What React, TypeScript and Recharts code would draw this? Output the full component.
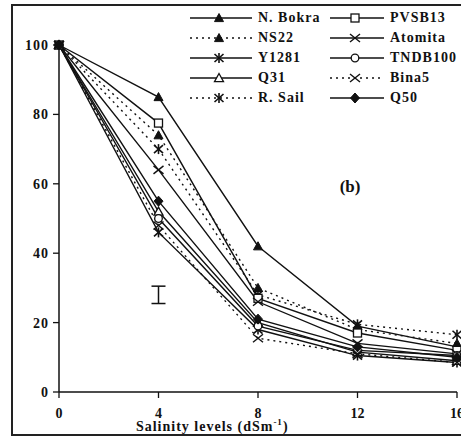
import React from 'react';
import {
  ComposedChart, Line, XAxis, YAxis, Scatter, ErrorBar, ReferenceDot, Label,
} from 'recharts';

const salinityLevels = [0, 4, 8, 12, 16];
const nBokra = [100, 85, 42, 19, 13];
const pvsb13 = [100, 77.5, 27, 17, 12];
const ns22 = [100, 74, 30, 18, 14];
const atomita = [100, 64, 26, 14, 11];
const y1281 = [100, 46, 18, 10.5, 8.5];
const tndb100 = [100, 50, 19, 12, 10.5];
const q31 = [100, 52, 20, 11.5, 9];
const bina5 = [100, 48, 15.5, 11, 8.5];
const rSail = [100, 70, 28, 19.5, 16.5];
const q50 = [100, 55, 21, 13, 10];
const yTicks = [0, 20, 40, 60, 80, 100];
const lsdBar = [{ x: 4, y: 28, err: 2.5 }];

type Mk = 'triF' | 'triO' | 'square' | 'circle' | 'diamond' | 'x' | 'ast';
interface S { key: string; name: string; values: number[]; dashed: boolean; marker: Mk }

// legend order: left column then right column
const series: S[] = [
  { key: 'nb', name: 'N. Bokra', values: nBokra, dashed: false, marker: 'triF' },
  { key: 'ns', name: 'NS22', values: ns22, dashed: true, marker: 'triF' },
  { key: 'y1', name: 'Y1281', values: y1281, dashed: false, marker: 'ast' },
  { key: 'q31', name: 'Q31', values: q31, dashed: false, marker: 'triO' },
  { key: 'rs', name: 'R. Sail', values: rSail, dashed: true, marker: 'ast' },
  { key: 'pv', name: 'PVSB13', values: pvsb13, dashed: false, marker: 'square' },
  { key: 'at', name: 'Atomita', values: atomita, dashed: false, marker: 'x' },
  { key: 'tn', name: 'TNDB100', values: tndb100, dashed: false, marker: 'circle' },
  { key: 'b5', name: 'Bina5', values: bina5, dashed: true, marker: 'x' },
  { key: 'q50', name: 'Q50', values: q50, dashed: false, marker: 'diamond' },
];

const data = salinityLevels.map((x, i) => {
  const row: Record<string, number> = { x };
  series.forEach((s) => { row[s.key] = s.values[i]; });
  return row;
});

const INK = '#111';
const FONT = '"Liberation Serif", "Times New Roman", serif';

function Marker({ type, cx, cy }: { type: Mk; cx: number; cy: number }) {
  const s = 4.5;
  switch (type) {
    case 'triF':
      return <polygon points={`${cx},${cy - s} ${cx - s},${cy + s * 0.8} ${cx + s},${cy + s * 0.8}`} fill={INK} stroke={INK} />;
    case 'triO':
      return <polygon points={`${cx},${cy - s} ${cx - s},${cy + s * 0.8} ${cx + s},${cy + s * 0.8}`} fill="#fff" stroke={INK} strokeWidth={1.3} />;
    case 'square':
      return <rect x={cx - 4} y={cy - 4} width={8} height={8} fill="#fff" stroke={INK} strokeWidth={1.3} />;
    case 'circle':
      return <circle cx={cx} cy={cy} r={3.8} fill="#fff" stroke={INK} strokeWidth={1.3} />;
    case 'diamond':
      return <polygon points={`${cx},${cy - 5} ${cx + 4.5},${cy} ${cx},${cy + 5} ${cx - 4.5},${cy}`} fill={INK} stroke={INK} />;
    case 'x':
      return (
        <g stroke={INK} strokeWidth={1.4}>
          <line x1={cx - 5} y1={cy - 4} x2={cx + 5} y2={cy + 4} />
          <line x1={cx - 5} y1={cy + 4} x2={cx + 5} y2={cy - 4} />
        </g>
      );
    case 'ast':
    default:
      return (
        <g stroke={INK} strokeWidth={1.6}>
          <line x1={cx - 4.5} y1={cy - 4} x2={cx + 4.5} y2={cy + 4} />
          <line x1={cx - 4.5} y1={cy + 4} x2={cx + 4.5} y2={cy - 4} />
          <line x1={cx} y1={cy - 5} x2={cx} y2={cy + 5} />
        </g>
      );
  }
}

const makeDot = (type: Mk, key: string) => (props: any) => {
  const { cx, cy, index } = props;
  if (cx == null || cy == null) return <g key={`${key}-${index}`} />;
  return <g key={`${key}-${index}`}><Marker type={type} cx={cx} cy={cy} /></g>;
};

function LegendEntry({ s, lineW }: { s: S; lineW: number }) {
  return (
    <div style={{ display: 'flex', alignItems: 'center', height: 20 }}>
      <svg width={lineW} height={16} style={{ display: 'block' }}>
        <line x1={0} y1={8} x2={lineW} y2={8} stroke={INK} strokeWidth={1.3}
          strokeDasharray={s.dashed ? '2 4' : undefined} />
        <Marker type={s.marker} cx={lineW / 2 - 2} cy={8} />
      </svg>
      <span style={{ marginLeft: 6, fontFamily: FONT, fontWeight: 'bold', fontSize: 14, letterSpacing: 1, color: INK, whiteSpace: 'nowrap' }}>
        {s.name}
      </span>
    </div>
  );
}

const LegendBox = () => (
  <div style={{ display: 'flex', position: 'absolute', top: 8, left: 190 }}>
    <div style={{ width: 140 }}>
      {series.slice(0, 5).map((s) => <LegendEntry key={s.key} s={s} lineW={62} />)}
    </div>
    <div>
      {series.slice(5).map((s) => <LegendEntry key={s.key} s={s} lineW={54} />)}
    </div>
  </div>
);

const AxisTitle = (props: any) => {
  const vb = props.viewBox || { x: 0, y: 0, width: 0, height: 0 };
  const x = vb.x + vb.width * 0.385;
  const y = vb.y + vb.height - 6;
  return (
    <text x={x} y={y} textAnchor="middle" fontFamily={FONT} fontWeight="bold" fontSize={14} letterSpacing={1} fill={INK}>
      Salinity levels (dSm<tspan fontSize={9} dy={-6}>-1</tspan><tspan dy={6}>)</tspan>
    </text>
  );
};

export default function App() {
  return (
    <div style={{ position: 'fixed', left: 0, top: 0, width: 461, height: 437, overflow: 'hidden', background: '#fff' }}>
      <style>{'html,body{margin:0;padding:0;overflow:hidden;}'}</style>
      <div style={{ position: 'absolute', left: 11, top: 4, width: 480, height: 428, border: '2px solid #222' }} />
      <div style={{ position: 'absolute', left: 0, top: 0 }}>
        <ComposedChart width={461} height={437} data={data} margin={{ top: 45, right: 4, bottom: 0, left: 19 }}>
          <XAxis dataKey="x" type="number" domain={[0, 16]} ticks={salinityLevels}
            axisLine={{ stroke: INK, strokeWidth: 1.5 }} tickLine={{ stroke: INK, strokeWidth: 1.3 }}
            tickSize={6} tickMargin={10} height={45} interval={0}
            tick={{ fill: INK, fontFamily: FONT, fontWeight: 'bold', fontSize: 14 }}>
            <Label content={<AxisTitle />} />
          </XAxis>
          <YAxis type="number" domain={[0, 100]} ticks={yTicks} width={40}
            axisLine={{ stroke: INK, strokeWidth: 1.5 }} tickLine={{ stroke: INK, strokeWidth: 1.3 }}
            tickSize={6} tickMargin={4} interval={0}
            tick={{ fill: INK, fontFamily: FONT, fontWeight: 'bold', fontSize: 14, letterSpacing: 1 }} />
          {series.map((s) => (
            <Line key={s.key} dataKey={s.key} name={s.name} type="linear" stroke={INK} strokeWidth={1.4}
              strokeDasharray={s.dashed ? '2 4' : undefined}
              dot={makeDot(s.marker, s.key)} activeDot={false} isAnimationActive={false} />
          ))}
          <Scatter data={lsdBar} dataKey="y" shape={() => <g />} isAnimationActive={false} legendType="none">
            <ErrorBar dataKey="err" direction="y" width={7} stroke={INK} strokeWidth={1.5} />
          </Scatter>
          <ReferenceDot x={11.7} y={59.5} r={0} fill="none" stroke="none"
            label={{ value: '(b)', position: 'center', fontFamily: FONT, fontWeight: 'bold', fontSize: 17, fill: INK }} />
        </ComposedChart>
      </div>
      <LegendBox />
    </div>
  );
}
